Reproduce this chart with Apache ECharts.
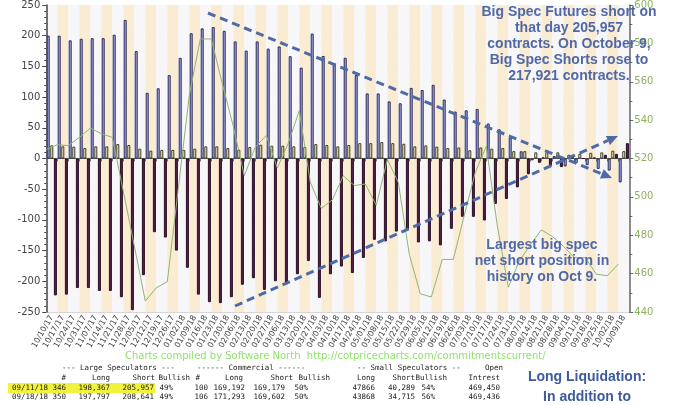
<!DOCTYPE html>
<html><head><meta charset="utf-8">
<script src="https://cdn.jsdelivr.net/npm/echarts@6/dist/echarts.min.js"></script>
<style>html,body{margin:0;padding:0;background:#fff}#c{width:680px;height:405px}</style>
</head><body><div id="c"></div>
<script>
const dates = ['10/10/17','10/17/17','10/24/17','10/31/17','11/07/17','11/14/17','11/21/17','11/28/17','12/05/17','12/12/17','12/19/17','12/26/17','01/02/18','01/09/18','01/16/18','01/23/18','01/30/18','02/06/18','02/13/18','02/20/18','02/27/18','03/06/18','03/13/18','03/20/18','03/27/18','04/03/18','04/10/18','04/17/18','04/24/18','05/01/18','05/08/18','05/15/18','05/22/18','05/29/18','06/05/18','06/12/18','06/19/18','06/26/18','07/03/18','07/10/18','07/17/18','07/24/18','07/31/18','08/07/18','08/14/18','08/21/18','08/28/18','09/04/18','09/11/18','09/18/18','09/25/18','10/02/18','10/09/18'];
const largeSpecNet = [200,200,192.5,195,196,196,201.6,225.7,175,107,114.4,135.8,164,204,212,214,208,190.7,175.7,190.7,179,182.5,166.7,148,203.5,167,155,164,136,106,106,93,90,115,111.6,120,96,76.4,78.5,80.7,57,47.5,34,11.8,-3,2,4,-13,-7.6,-10.8,-17,-19.6,-39];
const smallSpecNet = [21.4,19.8,19.3,17,19.8,19.8,23.5,22,16,12.8,14,14,14,16,19.8,19.8,17,14.4,18.7,22.4,20.8,20.8,19.8,18.7,23.5,22,19.8,22,25,25,26.7,25,24,19.8,21.4,19.3,17,18,13.4,18,16,17,12,12,10,10,10,6,7.6,9.2,10,12.8,12];
const commercialNet = [-223,-221.7,-211,-211,-215.8,-215.8,-226,-247,-190,-120,-128.7,-150,-178,-221.7,-234,-235.6,-226,-205.6,-195,-214,-200,-205,-188.5,-167,-227,-188.6,-176,-186.5,-162,-132.5,-135,-119,-115.5,-136.7,-135,-141.5,-114.5,-95,-95,-101,-74,-66,-47,-25.7,-7,-12,-14,6,0,1.7,6,7.5,25];
const price = [524.7,527.2,526.7,531,535.8,533,531,503,474.5,445.7,452.6,455.8,504.4,553,582.3,582.3,559,536.7,511,526,532,515,528,545,507.6,494,498.4,511,505.9,506.7,495.6,519.5,507.6,470,449.5,447.8,467.4,467.4,490.5,512.7,526.4,485,452.9,466.6,475,482.8,479.4,474.3,468.3,468.3,459.7,458.9,465];
const leftAxis = {min:-250, max:250, step:50};
const rightAxis = {min:440, max:600, step:20};

const note1 = ['Big Spec Futures short on','that day 205,957','contracts. On October 9,','Big Spec Shorts rose to','217,921 contracts.'];
const note2 = ['Largest big spec','net short position in','history on Oct 9.'];
const note3 = ['Long Liquidation:','In addition to'];
const credit = 'Charts compiled by Software North  http://cotpricecharts.com/commitmentscurrent/';
const tableHead1 = [['--- Large Speculators ---',62],['------ Commercial ------',197],['-- Small Speculators --',357],['Open',485]];
const tableHead2 = [['#',66],['Long',110],['Short',155],['Bullish',190],['#',200],['Long',243],['Short',293],['Bullish',330],['Long',375],['Short',415],['Bullish',447],['Intrest',500]];
const tableRows = [
  ['09/11/18','346','198,367','205,957','49%','100','169,192','169,179','50%','47866','40,289','54%','469,450'],
  ['09/18/18','350','197,797','208,641','49%','106','171,293','169,602','50%','43868','34,715','56%','469,436']
];
const rowRight = [48,66,110,154,173,208,245,285,308,375,415,435,500];

const chart = echarts.init(document.getElementById('c'), null, {renderer:'canvas'});
const blue = '#5069a6';
const g = [];
const boldFont = 'bold 14px "Liberation Sans", Arial, sans-serif';
note1.forEach((t,i)=>g.push({type:'text',style:{text:t,x:569,y:12+i*16,textAlign:'center',textVerticalAlign:'middle',font:boldFont,fill:blue},z:10}));
note2.forEach((t,i)=>g.push({type:'text',style:{text:t,x:542,y:245+i*16,textAlign:'center',textVerticalAlign:'middle',font:boldFont,fill:blue},z:10}));
note3.forEach((t,i)=>g.push({type:'text',style:{text:t,x:587,y:377+i*20,textAlign:'center',textVerticalAlign:'middle',font:boldFont,fill:'#3d5b9c'},z:10}));
g.push({type:'text',style:{text:credit,x:125,y:356,textAlign:'left',textVerticalAlign:'middle',font:'10px "DejaVu Sans", sans-serif',fill:'#8fe26a'}});
g.push({type:'rect',shape:{x:8,y:383,width:147,height:10},style:{fill:'#f2f23c'},z:1});
const mono = '7.5px "DejaVu Sans Mono", monospace';
tableHead1.forEach(([t,x])=>g.push({type:'text',style:{text:t,x:x,y:368,textAlign:'left',textVerticalAlign:'middle',font:mono,fill:'#222'},z:5}));
tableHead2.forEach(([t,x])=>g.push({type:'text',style:{text:t,x:x,y:378,textAlign:'right',textVerticalAlign:'middle',font:mono,fill:'#222'},z:5}));
tableRows.forEach((row,r)=>row.forEach((t,c)=>g.push({type:'text',style:{text:t,x:rowRight[c],y:388+r*9.5,textAlign:'right',textVerticalAlign:'middle',font:mono,fill:'#222'},z:5})));
function arrow(x1,y1,x2,y2){
  const dx=x2-x1, dy=y2-y1, L=Math.hypot(dx,dy), ux=dx/L, uy=dy/L, s=11, w=5;
  const bx=x2-ux*s, by=y2-uy*s;
  g.push({type:'line',shape:{x1:x1,y1:y1,x2:bx,y2:by},style:{stroke:'#4f6aa8',lineWidth:3,lineDash:[8,5]},z:8});
  g.push({type:'polygon',shape:{points:[[x2,y2],[bx-uy*w,by+ux*w],[bx+uy*w,by-ux*w]]},style:{fill:'#4f6aa8'},z:8});
}
arrow(208,13,612,178);
arrow(235,306,618,136);

chart.setOption({
  animation:false,
  grid:{left:46.3,right:50.7,top:0,bottom:93},
  xAxis:[{
    type:'category', data:dates, boundaryGap:true,
    axisLine:{show:true,lineStyle:{color:'#555'}},
    axisTick:{show:true,length:3,lineStyle:{color:'#777'}},
    axisLabel:{interval:0,rotate:60,fontSize:8,color:'#444',margin:4,fontFamily:'DejaVu Sans'},
    splitArea:{show:true,areaStyle:{color:['#f7f7fa','#faebd3']}},
    splitLine:{show:false}
  },{type:'value',min:0,max:dates.length,show:false}],
  yAxis:[{
    type:'value', min:leftAxis.min, max:leftAxis.max, interval:leftAxis.step,
    axisLine:{show:true,lineStyle:{color:'#444',width:1.5}},
    axisTick:{show:true,length:4,lineStyle:{color:'#444'}},
    minorTick:{show:true,splitNumber:5,length:2,lineStyle:{color:'#444'}},
    axisLabel:{fontSize:10,color:'#444',margin:6,fontFamily:'DejaVu Sans'},
    splitLine:{show:true,lineStyle:{color:'#d6d6d6'}}
  },{
    type:'value', min:rightAxis.min, max:rightAxis.max, interval:rightAxis.step, position:'right',
    axisLine:{show:true,lineStyle:{color:'#666',width:1.5}},
    axisTick:{show:true,length:4,lineStyle:{color:'#666'}},
    minorTick:{show:true,splitNumber:2,length:3,lineStyle:{color:'#666'}},
    axisLabel:{fontSize:10,color:'#8db060',margin:5,fontFamily:'DejaVu Sans'},
    splitLine:{show:false}
  }],
  series:[
    {type:'bar',name:'Large Speculators',data:largeSpecNet,barWidth:3,barGap:'20%',itemStyle:{color:'#aaaae8',borderColor:'#2a2a5a',borderWidth:1}},
    {type:'bar',name:'Small Speculators',data:smallSpecNet,barWidth:3,barGap:'20%',itemStyle:{color:'#fdfdc8',borderColor:'#3a3a20',borderWidth:1}},
    {type:'bar',name:'Commercial',data:commercialNet,barWidth:3,barGap:'20%',itemStyle:{color:'#552248',borderColor:'#2b0d24',borderWidth:1}},
    {type:'line',name:'Price',xAxisIndex:1,yAxisIndex:1,data:price.map((p,i)=>[i,p]),showSymbol:false,lineStyle:{color:'#8fb574',width:1},z:4}
  ],
  graphic:g
});
</script></body></html>
